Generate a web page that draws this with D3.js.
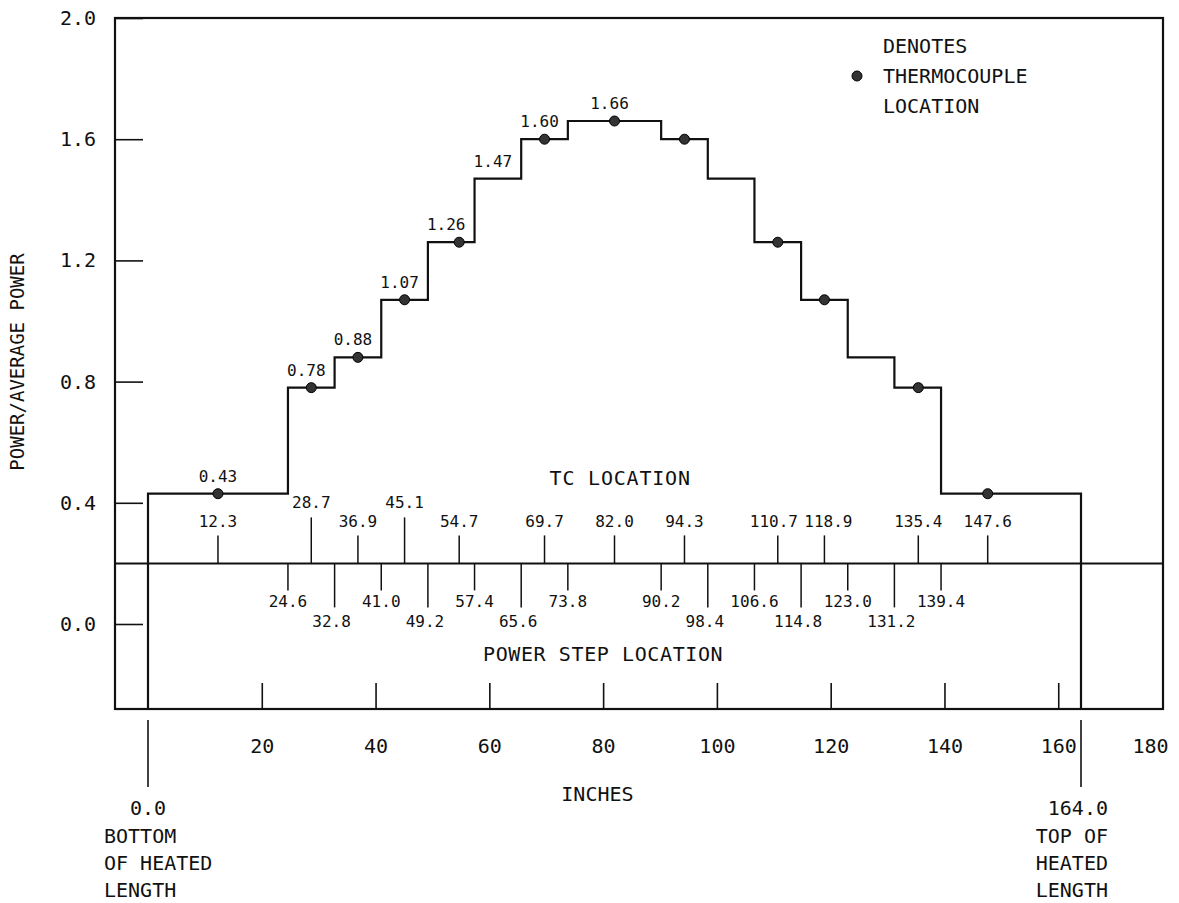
<!DOCTYPE html>
<html>
<head>
<meta charset="utf-8">
<script src="https://cdn.jsdelivr.net/npm/d3@7"></script>
<style>
  body { margin: 0; background: #fff; }
  svg text { font-family: "DejaVu Sans Mono", "Liberation Mono", monospace; fill: #111; }
</style>
</head>
<body>
<svg id="chart"></svg>
<script>
// power steps along the heated length (inches) and relative power of each step
var stepEdges = [0, 24.6, 32.8, 41.0, 49.2, 57.4, 65.6, 73.8, 90.2, 98.4, 106.6, 114.8, 123.0, 131.2, 139.4, 164.0];
var stepPower = [0.43, 0.78, 0.88, 1.07, 1.26, 1.47, 1.60, 1.66, 1.60, 1.47, 1.26, 1.07, 0.88, 0.78, 0.43];
var labelledSteps = 8; // values written over the rising half only

// thermocouple locations (inches)
var tcLocations = [12.3, 28.7, 36.9, 45.1, 54.7, 69.7, 82.0, 94.3, 110.7, 118.9, 135.4, 147.6];
var tcRaised = [28.7, 45.1];

// power step locations (inches)
var stepLocations = [24.6, 32.8, 41.0, 49.2, 57.4, 65.6, 73.8, 90.2, 98.4, 106.6, 114.8, 123.0, 131.2, 139.4];
var stepPitch = 8.2;

var yTicks = [0.0, 0.4, 0.8, 1.2, 1.6, 2.0];
var xTicks = [20, 40, 60, 80, 100, 120, 140, 160, 180];
var refLevel = 0.2;

var W = 1179, H = 903;
var ink = "#111";
var frame = {left: 115, right: 1163, top: 18, bottom: 709};

var svg = d3.select("#chart").attr("width", W).attr("height", H);
svg.append("rect").attr("width", W).attr("height", H).attr("fill", "#fff");

var x = d3.scaleLinear().domain([0, 164]).range([148, 1081]);
var y = d3.scaleLinear().domain([0, 2.0]).range([624, 18]);
var yBottom = y.invert(frame.bottom);

// frame
svg.append("rect")
  .attr("x", frame.left).attr("y", frame.top)
  .attr("width", frame.right - frame.left).attr("height", frame.bottom - frame.top)
  .attr("fill", "none").attr("stroke", ink).attr("stroke-width", 2.2);

// y axis
svg.append("g")
  .attr("transform", "translate(" + frame.left + ",0)")
  .call(d3.axisLeft(y).tickValues(yTicks).tickSize(-28).tickPadding(19).tickFormat(d3.format(".1f")))
  .call(function(g) { g.select(".domain").remove(); })
  .call(function(g) { g.selectAll("line").attr("stroke", ink).attr("stroke-width", 1.6); })
  .call(function(g) { g.selectAll("text").attr("font-size", 20).attr("fill", ink); });

// x axis
var xAxis = svg.append("g")
  .attr("transform", "translate(0," + frame.bottom + ")")
  .call(d3.axisBottom(x).tickValues(xTicks).tickSize(-26).tickPadding(30).tickFormat(d3.format("d")));
xAxis.select(".domain").remove();
xAxis.selectAll("line").attr("stroke", ink).attr("stroke-width", 1.6);
xAxis.selectAll("text").attr("font-size", 20).attr("fill", ink);
xAxis.selectAll(".tick").filter(function(d) { return x(d) > frame.right; })
  .call(function(t) { t.select("line").remove(); })
  .select("text").attr("text-anchor", "end").attr("dx", -2 - (x(180) - (W - 9)) );

svg.append("text")
  .attr("x", x(79)).attr("y", 801)
  .attr("text-anchor", "middle").attr("font-size", 20)
  .text("INCHES");

svg.append("text")
  .attr("transform", "translate(24,362) rotate(-90)")
  .attr("text-anchor", "middle").attr("font-size", 19)
  .text("POWER/AVERAGE POWER");

// reference line carrying the location ticks
svg.append("line")
  .attr("x1", frame.left).attr("x2", frame.right)
  .attr("y1", y(refLevel)).attr("y2", y(refLevel))
  .attr("stroke", ink).attr("stroke-width", 2);

// thermocouple ticks above the line
var tc = svg.append("g").selectAll("g").data(tcLocations).enter().append("g")
  .attr("transform", function(d) { return "translate(" + x(d) + "," + y(refLevel) + ")"; });
tc.append("line")
  .attr("y1", 0)
  .attr("y2", function(d) { return tcRaised.indexOf(d) >= 0 ? -46 : -28; })
  .attr("stroke", ink).attr("stroke-width", 1.5);

// spread crowded labels in the lower row apart a little
var charW = 9.7;
function tcShift(d) {
  var i = tcLocations.indexOf(d);
  if (tcRaised.indexOf(d) >= 0) return 0;
  var w = d.toFixed(1).length * charW, s = 0;
  var prev = tcLocations[i - 1], next = tcLocations[i + 1];
  if (next !== undefined && tcRaised.indexOf(next) < 0) {
    var gap = x(next) - x(d) - (w + next.toFixed(1).length * charW) / 2;
    if (gap < 6) s -= (6 - gap) / 2;
  }
  if (prev !== undefined && tcRaised.indexOf(prev) < 0) {
    var gap2 = x(d) - x(prev) - (w + prev.toFixed(1).length * charW) / 2;
    if (gap2 < 6) s += (6 - gap2) / 2;
  }
  return s;
}
tc.append("text")
  .attr("y", function(d) { return tcRaised.indexOf(d) >= 0 ? -55 : -36; })
  .attr("dx", tcShift)
  .attr("text-anchor", "middle").attr("font-size", 16)
  .text(function(d) { return d.toFixed(1); });

svg.append("text")
  .attr("x", x(83)).attr("y", 485)
  .attr("text-anchor", "middle").attr("font-size", 20).attr("letter-spacing", 0.8)
  .text("TC LOCATION");

// power step ticks below the line
var st = svg.append("g").selectAll("g").data(stepLocations).enter().append("g")
  .attr("transform", function(d) { return "translate(" + x(d) + "," + y(refLevel) + ")"; });
function lowRow(d) { return Math.round(d / stepPitch) % 2 === 0; }
st.append("line")
  .attr("y1", 0)
  .attr("y2", function(d) { return lowRow(d) ? 44 : 27; })
  .attr("stroke", ink).attr("stroke-width", 1.5);
st.append("text")
  .attr("y", function(d) { return lowRow(d) ? 64 : 44; })
  .attr("dx", function(d) { return lowRow(d) ? -3 : 0; })
  .attr("text-anchor", "middle").attr("font-size", 16)
  .text(function(d) { return d.toFixed(1); });

svg.append("text")
  .attr("x", x(80)).attr("y", 661)
  .attr("text-anchor", "middle").attr("font-size", 20).attr("letter-spacing", 0.6)
  .text("POWER STEP LOCATION");

// stepped power profile
var profile = [[0, yBottom]];
stepPower.forEach(function(p, i) { profile.push([stepEdges[i], p]); });
profile.push([stepEdges[stepEdges.length - 1], stepPower[stepPower.length - 1]]);
profile.push([stepEdges[stepEdges.length - 1], yBottom]);

var line = d3.line()
  .x(function(d) { return x(d[0]); })
  .y(function(d) { return y(d[1]); })
  .curve(d3.curveStepAfter);

svg.append("path").datum(profile)
  .attr("d", line)
  .attr("fill", "none").attr("stroke", ink).attr("stroke-width", 2.2);

// step values
svg.append("g").selectAll("text").data(stepPower.slice(0, labelledSteps)).enter().append("text")
  .attr("x", function(d, i) { return x((stepEdges[i] + stepEdges[i + 1]) / 2) - (i === 0 ? 0 : 5); })
  .attr("y", function(d) { return y(d) - 12; })
  .attr("text-anchor", "middle").attr("font-size", 16)
  .text(function(d) { return d.toFixed(2); });

// thermocouple dots
function powerAt(t) { return stepPower[d3.bisectRight(stepEdges, t) - 1]; }
svg.append("g").selectAll("circle").data(tcLocations).enter().append("circle")
  .attr("cx", function(d) { return x(d); })
  .attr("cy", function(d) { return y(powerAt(d)); })
  .attr("r", 5)
  .attr("fill", "#333").attr("stroke", "#000").attr("stroke-width", 1);

// ends of heated length, below the frame
var ends = [stepEdges[0], stepEdges[stepEdges.length - 1]];
svg.append("g").selectAll("line").data(ends).enter().append("line")
  .attr("x1", function(d) { return x(d); }).attr("x2", function(d) { return x(d); })
  .attr("y1", 720).attr("y2", 787)
  .attr("stroke", ink).attr("stroke-width", 1.6);

var leftEnd = svg.append("g");
leftEnd.append("text").attr("x", x(ends[0])).attr("y", 815).attr("text-anchor", "middle").text(ends[0].toFixed(1));
["BOTTOM", "OF HEATED", "LENGTH"].forEach(function(s, i) {
  leftEnd.append("text").attr("x", x(ends[0]) - 44).attr("y", 843 + i * 27).text(s);
});
leftEnd.selectAll("text").attr("font-size", 20);

var rightEnd = svg.append("g").attr("text-anchor", "end");
rightEnd.append("text").attr("x", x(ends[1]) + 27).attr("y", 815).text(ends[1].toFixed(1));
["TOP OF", "HEATED", "LENGTH"].forEach(function(s, i) {
  rightEnd.append("text").attr("x", x(ends[1]) + 27).attr("y", 843 + i * 27).text(s);
});
rightEnd.selectAll("text").attr("font-size", 20);

// legend
svg.append("circle").attr("cx", 857).attr("cy", 76).attr("r", 5)
  .attr("fill", "#333").attr("stroke", "#000");
["DENOTES", "THERMOCOUPLE", "LOCATION"].forEach(function(s, i) {
  svg.append("text").attr("x", 883).attr("y", 53 + i * 30).attr("font-size", 20).text(s);
});
</script>
</body>
</html>
